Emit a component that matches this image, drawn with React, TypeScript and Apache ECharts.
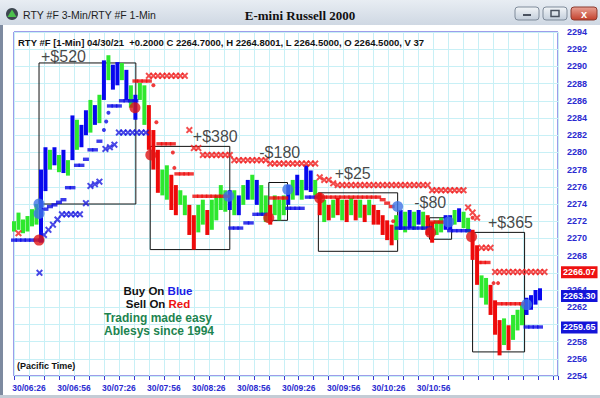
import React, { useEffect, useRef } from 'react';
import * as echarts from 'echarts';

// minutes since 06:16 ; one bar every 3 minutes
const START_MIN = 376;
const BAR_STEP = 3;
const X_MAX = 363;

const barHigh = [
  2272.0, 2273.0, 2272.2, 2272.6, 2273.4, 2274.0,
  2278.0, 2280.6, 2280.3, 2280.6, 2279.7, 2280.3, 2279.1, 2284.3, 2283.8, 2283.2, 2284.9, 2286.1, 2285.5, 2286.7,
  2290.7, 2291.3, 2290.2, 2290.5, 2290.4, 2289.6, 2287.8, 2286.7, 2288.1, 2287.8,
  2285.5, 2282.6, 2280.3, 2278.0, 2278.5, 2277.4, 2276.2, 2275.6, 2275.0, 2273.9,
  2272.7, 2273.9, 2274.5, 2273.3, 2274.5, 2275.0, 2276.2, 2275.6, 2275.6, 2275.6,
  2275.0, 2276.2, 2276.8, 2277.4, 2276.8, 2276.2, 2275.0, 2273.9, 2275.0, 2274.5,
  2275.0, 2276.2, 2276.8, 2277.4, 2276.8, 2278.5, 2277.9, 2276.8, 2275.3, 2274.5,
  2273.9, 2274.5, 2274.7, 2274.5, 2274.5, 2274.7, 2274.5, 2274.5, 2273.9, 2274.5,
  2273.9, 2273.3, 2272.7, 2272.1, 2271.6, 2272.7, 2273.3, 2273.1, 2273.3, 2273.1,
  2273.3, 2273.1, 2272.7, 2271.9, 2272.1, 2272.4, 2272.7, 2272.7, 2273.3, 2273.5,
  2273.1, 2272.4, 2271.0, 2269.2, 2265.7, 2265.4, 2264.6, 2262.8, 2260.5, 2260.7,
  2259.9, 2261.1, 2261.7, 2262.3, 2263.1, 2263.4, 2264.0, 2264.2,
];
const barLow = [
  2270.8, 2271.0, 2270.6, 2270.8, 2271.4, 2271.6,
  2269.5, 2275.5, 2278.0, 2278.5, 2277.7, 2277.6, 2277.3, 2279.1, 2280.3, 2280.6, 2282.0, 2282.3, 2283.2, 2283.4,
  2286.1, 2288.4, 2287.3, 2287.8, 2288.4, 2286.1, 2285.2, 2283.8, 2286.1, 2283.2,
  2280.3, 2278.0, 2275.3, 2275.0, 2274.5, 2273.3, 2272.7, 2273.9, 2272.7, 2270.4,
  2268.7, 2270.7, 2271.6, 2270.4, 2271.0, 2272.1, 2273.3, 2273.1, 2273.3, 2272.7,
  2272.7, 2273.9, 2274.5, 2274.5, 2273.9, 2272.7, 2271.9, 2271.6, 2272.7, 2272.1,
  2272.7, 2273.9, 2274.5, 2275.0, 2274.5, 2275.6, 2275.4, 2275.0, 2272.7, 2271.9,
  2272.1, 2272.4, 2272.7, 2272.1, 2271.9, 2272.7, 2272.1, 2272.4, 2271.9, 2272.7,
  2271.6, 2271.6, 2270.4, 2269.8, 2269.2, 2269.8, 2271.0, 2270.7, 2271.2, 2271.0,
  2271.6, 2271.0, 2270.4, 2269.5, 2270.4, 2270.7, 2271.0, 2271.0, 2271.6, 2271.9,
  2271.2, 2270.7, 2267.5, 2264.6, 2263.1, 2262.3, 2261.1, 2258.8, 2256.4, 2257.6,
  2257.0, 2258.2, 2259.3, 2259.9, 2261.1, 2261.7, 2262.3, 2262.8,
];
// B = buy (blue), G = neutral (green), R = sell (red)
const barColorCode =
  'GGGGGG' +
  'BBGBGBGBGBBGBGBGBBGBGB' +
  'GGRRRGGRRGGRRGGRGGGG' +
  'BGBGBGBGG' +
  'RGGG' +
  'BGBGBBG' +
  'RGRGRGRGRGRGRRRRRG' +
  'BGBGBGRRGGBBGBGG' +
  'RRGGRRRGRGGGBBBB';

// stop levels: [fromMinute, toMinute, price], one mark per bar
const blueXRuns = [
  [17, 17, 2266.0], [20, 20, 2270.4], [23, 23, 2271.0], [26, 26, 2271.6], [29, 29, 2272.2],
  [32, 44, 2272.8], [48, 48, 2274.1], [51, 51, 2276.1], [54, 54, 2276.3], [57, 57, 2276.6],
  [61, 61, 2280.4], [64, 64, 2280.6], [67, 67, 2280.9], [70, 88, 2282.3],
];
const redXRuns = [
  [3, 3, 2270.6], [90, 114, 2288.9], [117, 117, 2282.6], [120, 123, 2280.5], [126, 144, 2279.7],
  [147, 168, 2279.1], [171, 201, 2278.7], [204, 204, 2277.1], [207, 210, 2276.8], [213, 213, 2276.4],
  [216, 276, 2276.2], [279, 300, 2275.6], [303, 303, 2273.6], [306, 306, 2273.0], [309, 309, 2272.4],
  [312, 318, 2268.9], [321, 354, 2266.1],
];
const blueDashRuns = [
  [0, 18, 2269.8], [21, 21, 2273.4], [24, 24, 2273.7], [27, 27, 2273.9], [30, 30, 2274.2], [33, 33, 2274.5],
  [36, 39, 2275.9], [42, 45, 2278.5], [48, 48, 2279.2], [51, 54, 2280.3], [57, 57, 2281.3],
  [64, 70, 2285.4], [72, 81, 2286.0], [145, 151, 2271.2], [155, 158, 2271.8], [161, 167, 2272.8],
  [183, 192, 2273.5], [196, 202, 2274.8], [256, 277, 2271.2], [291, 303, 2270.9], [342, 351, 2259.7],
];
const redDashRuns = [
  [81, 90, 2288.3], [97, 106, 2281.0], [109, 118, 2277.5], [121, 142, 2274.9], [172, 181, 2274.7],
  [204, 243, 2274.8], [246, 246, 2274.5], [249, 249, 2274.1], [252, 252, 2273.7], [279, 285, 2271.9],
  [310, 316, 2267.2], [324, 339, 2262.4],
];
const blueDots = [[60, 2282.6], [61.5, 2283.6], [63, 2284.6]];
const redDots = [[93, 2287.8], [95, 2283.5], [106, 2280.0], [107, 2278.2], [253, 2272.0], [306, 2272.4], [320, 2264.8], [323, 2264.8]];

const buyCircles = [[16.7, 2274.0], [16.7, 2272.9], [143.3, 2274.9], [182.7, 2275.7], [256, 2273.7], [290, 2271.9], [342, 2262.3]];
const sellCircles = [[16.7, 2269.8], [80.7, 2285.2], [91.3, 2279.7], [170, 2272.4], [204, 2274.7], [278, 2270.7], [305.3, 2270.2]];

// trade boxes: [m1, p1, m2, p2]
const tradeBoxes = [
  [16.7, 2290.4, 81.3, 2274.0],
  [90.9, 2280.7, 144.0, 2268.7],
  [170.0, 2276.5, 182.5, 2272.1],
  [203.1, 2275.3, 256.0, 2268.5],
  [277.3, 2272.4, 292.0, 2269.9],
  [306.0, 2270.7, 340.7, 2256.8],
];
const tradeLabels = ['+$520', '+$380', '-$180', '+$25', '-$80', '+$365'];
const tradeLabelPos = [[33, 2291.2], [134.3, 2281.9], [177.3, 2280.0], [226, 2277.6], [277.7, 2274.2], [331.3, 2271.9]];

const priceTagValues = [2266.07, 2263.3, 2259.65];
const priceTagColors = ['#ee1111', '#1414d8', '#1414d8'];
// axis labels fully covered by the price tags in the reference
const hiddenYLabels = [2266, 2260];

const COLORS: Record<string, string> = { B: '#0808ee', G: '#2ee82e', R: '#ee0a0a' };
const X_PATH = 'path://M0,2L2,0L5,3L8,0L10,2L7,5L10,8L8,10L5,7L2,10L0,8L3,5Z';
const SANS = 'Liberation Sans, Arial, sans-serif';

function expand(runs: number[][]) {
  const out: number[][] = [];
  runs.forEach(([a, b, p]) => {
    for (let m = a; m <= b; m += BAR_STEP) out.push([m, p]);
  });
  return out;
}

const pad = (n: number) => (n < 10 ? '0' + n : '' + n);

export default function App() {
  const ref = useRef<HTMLDivElement>(null);
  useEffect(() => {
    const chart = echarts.init(ref.current!, null, { renderer: 'svg' });
    const barData = barHigh.map((h, i) => [i * BAR_STEP, h, barLow[i]]);

    const option: any = {
      animation: false,
      backgroundColor: '#ffffff',
      grid: { left: 14, right: 42, top: 32, bottom: 22, show: true, borderColor: '#3a3ad4', borderWidth: 1, backgroundColor: '#ffffff' },
      xAxis: {
        type: 'value', min: 0, max: X_MAX, interval: 10,
        axisLine: { show: false },
        axisTick: { show: true, length: 4, lineStyle: { color: '#3a3ad4' } },
        splitLine: { show: true, lineStyle: { color: '#c8f0f6', width: 1 } },
        axisLabel: {
          color: '#2a2ad0', fontSize: 8.5, fontWeight: 'bold', fontFamily: SANS, margin: 7,
          showMinLabel: true, showMaxLabel: true,
          formatter: (v: number) => {
            if ((v - 10) % 30 !== 0 || v > 280) return '';
            const t = START_MIN + v;
            return '30/' + pad(Math.floor(t / 60)) + ':' + pad(t % 60);
          },
        },
      },
      yAxis: {
        type: 'value', position: 'right', min: 2254, max: 2294, interval: 2,
        axisLine: { show: false }, axisTick: { show: false },
        splitLine: { show: true, lineStyle: { color: '#c8f0f6', width: 1 } },
        axisLabel: {
          color: '#2a2ad0', fontSize: 9, fontWeight: 'bold', fontFamily: SANS, margin: 9,
          formatter: (v: number) => (hiddenYLabels.indexOf(v) >= 0 ? '' : String(v)),
        },
      },
      series: [
        {
          type: 'scatter', data: [], z: 1, silent: true,
          markArea: {
            silent: true,
            itemStyle: { color: 'rgba(0,0,0,0)', borderColor: '#111111', borderWidth: 1 },
            data: tradeBoxes.map(([m1, p1, m2, p2]) => [{ coord: [m1, p1] }, { coord: [m2, p2] }]),
          },
        },
        {
          type: 'custom', data: barData, encode: { x: 0, y: [1, 2] }, z: 3, silent: true,
          renderItem: (params: any, api: any) => {
            const m = api.value(0), h = api.value(1), l = api.value(2);
            const a = api.coord([m, h]);
            const b = api.coord([m, l]);
            return {
              type: 'line',
              shape: { x1: a[0], y1: a[1], x2: b[0], y2: b[1] },
              style: { stroke: COLORS[barColorCode[params.dataIndex]] || '#2ee82e', lineWidth: 4 },
            };
          },
        },
        { type: 'scatter', data: expand(blueDashRuns), symbol: 'rect', symbolSize: [6, 3.4], itemStyle: { color: '#0a0ae6' }, z: 4, silent: true },
        { type: 'scatter', data: expand(redDashRuns), symbol: 'rect', symbolSize: [6, 3.4], itemStyle: { color: '#ee0a0a' }, z: 4, silent: true },
        { type: 'scatter', data: expand(blueXRuns), symbol: X_PATH, symbolSize: 7, itemStyle: { color: '#1a1ae0' }, z: 4, silent: true },
        { type: 'scatter', data: expand(redXRuns), symbol: X_PATH, symbolSize: 7, itemStyle: { color: '#f02020' }, z: 4, silent: true },
        { type: 'scatter', data: blueDots, symbol: 'circle', symbolSize: 4, itemStyle: { color: '#0a0ae6' }, z: 4, silent: true },
        { type: 'scatter', data: redDots, symbol: 'circle', symbolSize: 4, itemStyle: { color: '#ee0a0a' }, z: 4, silent: true },
        { type: 'scatter', data: buyCircles, symbol: 'circle', symbolSize: 11, itemStyle: { color: '#3f74e6' }, z: 5, silent: true },
        { type: 'scatter', data: sellCircles, symbol: 'circle', symbolSize: 11, itemStyle: { color: '#e01414' }, z: 5, silent: true },
        {
          type: 'scatter', z: 6, silent: true, symbolSize: 0,
          data: tradeLabels.map((t, i) => ({ name: t, value: tradeLabelPos[i] })),
          label: { show: true, position: 'inside', formatter: '{b}', fontSize: 16, color: '#151515', fontFamily: SANS },
        },
        {
          type: 'custom', z: 20, silent: true, clip: false,
          data: priceTagValues.map((v) => [X_MAX, v]), encode: { x: 0, y: 1 },
          renderItem: (params: any, api: any) => {
            const v = api.value(1);
            const c = api.coord([X_MAX, v]);
            return {
              type: 'text', x: c[0] + 3, y: c[1], z2: 100,
              style: {
                text: priceTagValues[params.dataIndex].toFixed(2),
                fill: '#ffffff', font: 'bold 9px ' + SANS, verticalAlign: 'middle',
                backgroundColor: priceTagColors[params.dataIndex], padding: [2, 2, 1, 2],
              },
            };
          },
        },
      ],
      graphic: [
        {
          type: 'rect', shape: { x: 0, y: 0, width: 600, height: 25 }, silent: true,
          style: { fill: new echarts.graphic.LinearGradient(0, 0, 0, 1, [{ offset: 0, color: '#e8edf3' }, { offset: 1, color: '#cfd8e3' }]) },
        },
        { type: 'rect', shape: { x: 0, y: 25, width: 3, height: 373 }, silent: true, style: { fill: '#7d8aa0' } },
        { type: 'rect', shape: { x: 0, y: 395, width: 600, height: 3 }, silent: true, style: { fill: '#c4ccd6' } },
        { type: 'circle', shape: { cx: 12, cy: 14, r: 6 }, silent: true, style: { fill: '#3d4650' } },
        { type: 'polygon', shape: { points: [[12, 9.5], [16.5, 17], [7.5, 17]] }, silent: true, style: { fill: '#4cc04c' } },
        { type: 'text', x: 23, y: 15, silent: true, style: { text: 'RTY #F 3-Min/RTY #F 1-Min', font: '10.5px ' + SANS, fill: '#1e1e1e', verticalAlign: 'middle' } },
        { type: 'text', x: 300, y: 15, silent: true, style: { text: 'E-mini Russell 2000', font: 'bold 13px Liberation Serif, Times New Roman, serif', fill: '#111', textAlign: 'center', verticalAlign: 'middle' } },
        {
          type: 'rect', shape: { x: 515, y: 7, width: 24, height: 13, r: 3 }, silent: true,
          style: { fill: new echarts.graphic.LinearGradient(0, 0, 0, 1, [{ offset: 0, color: '#f2f5f8' }, { offset: 1, color: '#c3cedb' }]), stroke: '#7f8b9a', lineWidth: 1 },
        },
        { type: 'rect', shape: { x: 523, y: 14, width: 8, height: 2 }, silent: true, style: { fill: '#4a5260' } },
        {
          type: 'rect', shape: { x: 543, y: 7, width: 24, height: 13, r: 3 }, silent: true,
          style: { fill: new echarts.graphic.LinearGradient(0, 0, 0, 1, [{ offset: 0, color: '#f2f5f8' }, { offset: 1, color: '#c3cedb' }]), stroke: '#7f8b9a', lineWidth: 1 },
        },
        { type: 'rect', shape: { x: 551, y: 10.5, width: 8, height: 6 }, silent: true, style: { fill: 'none', stroke: '#4a5260', lineWidth: 1.5 } },
        {
          type: 'rect', shape: { x: 571, y: 7, width: 26, height: 13, r: 3 }, silent: true,
          style: { fill: new echarts.graphic.LinearGradient(0, 0, 0, 1, [{ offset: 0, color: '#e8a193' }, { offset: 1, color: '#c3402c' }]), stroke: '#8b3a2e', lineWidth: 1 },
        },
        { type: 'text', x: 584, y: 13.5, silent: true, style: { text: 'x', font: 'bold 11px ' + SANS, fill: '#ffffff', textAlign: 'center', verticalAlign: 'middle' } },
        {
          type: 'text', x: 18, y: 42, silent: true, z: 10,
          style: { text: 'RTY #F [1-Min] 04/30/21  +0.2000 C 2264.7000, H 2264.8001, L 2264.5000, O 2264.5000, V 37', font: 'bold 9.5px ' + SANS, fill: '#111', verticalAlign: 'middle' },
        },
        { type: 'text', x: 17, y: 366, silent: true, z: 10, style: { text: '(Pacific Time)', font: 'bold 9px ' + SANS, fill: '#111', verticalAlign: 'middle' } },
        {
          type: 'text', x: 158, y: 290.5, silent: true, z: 10,
          style: {
            text: '{a|Buy On }{b|Blue}', textAlign: 'center', verticalAlign: 'middle',
            rich: { a: { fill: '#111', font: 'bold 11.5px ' + SANS }, b: { fill: '#1a1ae6', font: 'bold 11.5px ' + SANS } },
          },
        },
        {
          type: 'text', x: 158, y: 303.5, silent: true, z: 10,
          style: {
            text: '{a|Sell On }{b|Red}', textAlign: 'center', verticalAlign: 'middle',
            rich: { a: { fill: '#111', font: 'bold 11.5px ' + SANS }, b: { fill: '#ee1111', font: 'bold 11.5px ' + SANS } },
          },
        },
        { type: 'text', x: 158, y: 318, silent: true, z: 10, style: { text: 'Trading made easy', font: 'bold 12px ' + SANS, fill: '#1d8450', textAlign: 'center', verticalAlign: 'middle' } },
        { type: 'text', x: 159, y: 331, silent: true, z: 10, style: { text: 'Ablesys since 1994', font: 'bold 12px ' + SANS, fill: '#1d8450', textAlign: 'center', verticalAlign: 'middle' } },
      ],
    };
    chart.setOption(option);
    return () => chart.dispose();
  }, []);
  return <div ref={ref} style={{ width: 600, height: 398, position: 'absolute', left: 0, top: 0 }} />;
}
